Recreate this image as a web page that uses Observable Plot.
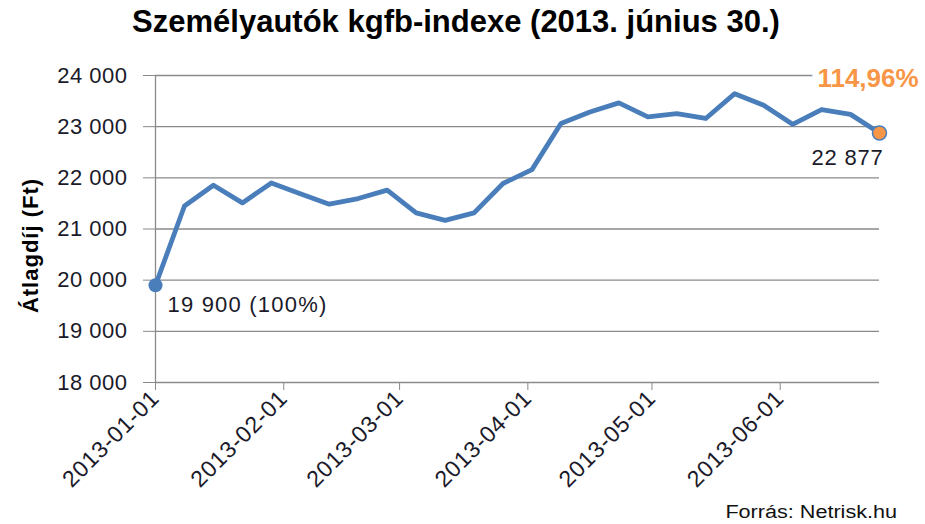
<!DOCTYPE html>
<html><head><meta charset="utf-8">
<script src="https://cdn.jsdelivr.net/npm/d3@7"></script>
<script src="https://cdn.jsdelivr.net/npm/@observablehq/plot@0.6"></script>
<style>
body{margin:0;background:#fff;font-family:"Liberation Sans",Arial,sans-serif;}
#wrap{position:relative;width:925px;height:524px;overflow:hidden;background:#fff;}
#title{position:absolute;left:0;top:4px;width:912px;text-align:center;font-weight:bold;font-size:31px;color:#000;white-space:nowrap;}
#chart{position:absolute;left:0;top:44px;}
#source{position:absolute;right:28px;top:502px;font-size:18px;color:#111;transform:scaleX(1.2);transform-origin:right center;white-space:nowrap;}
#chart g[aria-label="x-axis tick label"] text{letter-spacing:0.8px;}
#chart g[aria-label="y-axis tick label"] text{letter-spacing:0.5px;}
#chart .lbl-first text{letter-spacing:1.2px;}
#chart .lbl-last text{letter-spacing:0.8px;}
#chart .lbl-y text{letter-spacing:1px;}
</style></head><body>
<div id="wrap">
<div id="title">Személyautók kgfb-indexe (2013. június 30.)</div>
<div id="chart"></div>
<div id="source">Forrás: Netrisk.hu</div>
</div>
<script>
const dates = ["2013-01-01","2013-01-08","2013-01-15","2013-01-22","2013-01-29","2013-02-05","2013-02-12","2013-02-19","2013-02-26","2013-03-05","2013-03-12","2013-03-19","2013-03-26","2013-04-02","2013-04-09","2013-04-16","2013-04-23","2013-04-30","2013-05-07","2013-05-14","2013-05-21","2013-05-28","2013-06-04","2013-06-11","2013-06-18","2013-06-25"];
const values = [19900,21450,21855,21510,21900,21690,21485,21595,21760,21315,21170,21315,21890,22160,23060,23285,23465,23190,23255,23160,23645,23420,23045,23335,23240,22877];
const yTicks = [18000,19000,20000,21000,22000,23000,24000];
const xTicks = ["2013-01-01","2013-02-01","2013-03-01","2013-04-01","2013-05-01","2013-06-01"];
const yLabel = "Átlagdíj (Ft)";
const firstLabel = "19 900 (100%)";
const lastLabel = "22 877";
const indexLabel = "114,96%";

const fmt = d3.formatLocale({decimal:",", thousands:" ", grouping:[3], currency:["",""]}).format(",");
const data = dates.map((d,i)=>({date:new Date(d), value:values[i]}));
const first = data[0], last = data[data.length-1];
const grid = "#8a8a8a";

const chart = Plot.plot({
  width:925, height:480, marginTop:31, marginBottom:142, marginLeft:155, marginRight:46,
  style:{fontFamily:"'Liberation Sans', Arial, sans-serif", background:"white", overflow:"visible"},
  x:{type:"utc", domain:[first.date, last.date], label:null},
  y:{domain:[18000,24000], label:null},
  marks:[
    Plot.ruleY(yTicks, {stroke:grid, strokeWidth:1.3}),
    Plot.ruleX([first.date], {stroke:grid, strokeWidth:1.3}),
    Plot.axisY({ticks:yTicks, tickFormat:fmt, tickSize:12, tickPadding:16, fontSize:22, stroke:grid, fill:"#1a1a2a", label:null}),
    Plot.axisX({ticks:xTicks.map(d=>new Date(d)), tickFormat:d3.utcFormat("%Y-%m-%d"), tickRotate:-45, tickSize:8, tickPadding:4, fontSize:23, stroke:grid, fill:"#1a1a2a", label:null}),
    Plot.text([yLabel], {frameAnchor:"left", text:d=>d, rotate:-90, textAnchor:"middle", dx:-125, dy:16.5, fontWeight:"bold", fontSize:22, fill:"#000", className:"lbl-y"}),
    Plot.line(data, {x:"date", y:"value", stroke:"#4A7EBB", strokeWidth:4.8, strokeLinejoin:"round", strokeLinecap:"round"}),
    Plot.dot([first], {x:"date", y:"value", r:7, fill:"#4A7EBB"}),
    Plot.dot([last], {x:"date", y:"value", r:7, fill:"#F79646", stroke:"#4A7EBB", strokeWidth:1.5}),
    Plot.text([first], {x:"date", y:"value", text:()=>firstLabel, textAnchor:"start", dx:12, dy:20, fontSize:22, fill:"#1a1a2a", className:"lbl-first"}),
    Plot.text([last], {x:"date", y:"value", text:()=>lastLabel, textAnchor:"middle", dx:-32, dy:24.5, fontSize:22, fill:"#1a1a2a", className:"lbl-last"}),
    Plot.text([last], {x:"date", y:"value", text:()=>indexLabel, textAnchor:"middle", dx:-11.5, dy:-54, fontSize:26, fontWeight:"bold", fill:"#F79646", stroke:"white", strokeWidth:14, paintOrder:"stroke"})
  ]
});
document.getElementById("chart").appendChild(chart);
</script>
</body></html>
